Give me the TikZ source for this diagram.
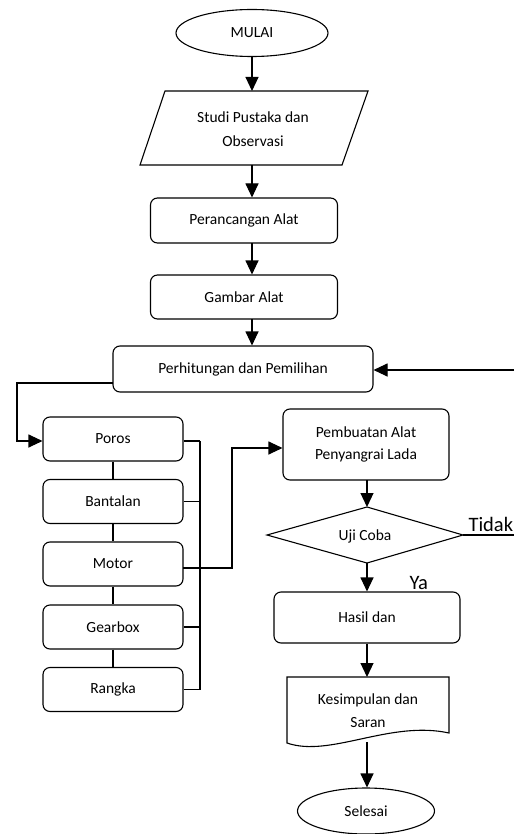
\documentclass[tikz,border=0pt]{standalone}
\usepackage{fontspec}
\setmainfont{Carlito}
\usetikzlibrary{shapes.geometric,arrows.meta}
\begin{document}
\begin{tikzpicture}[x=1pt,y=-1pt,line width=1.1pt,
  arr/.style={-{Triangle[length=14pt,width=13pt]}},
  rbox/.style={draw,rounded corners=7pt,inner sep=0pt,align=center,font=\fontsize{15.5}{22.5}\selectfont},
  term/.style={draw,ellipse,inner sep=0pt,font=\fontsize{15.5}{22.5}\selectfont},
  txt/.style={inner sep=0pt,align=center,font=\fontsize{15.5}{22.5}\selectfont},
  lbl/.style={inner sep=0pt,font=\fontsize{20.5}{24}\selectfont},
  lbox/.style={rbox,minimum width=140pt,minimum height=44pt}]
\useasboundingbox[fill=white] (0,0) rectangle (514,834);

% start
\node[term,minimum width=152pt,minimum height=47pt] (mulai) at (252,33) {MULAI};

% studi pustaka (parallelogram)
\draw (165,91) -- (368,91) -- (342,165) -- (140,165) -- cycle;
\node[txt,font=\fontsize{15.5}{24}\selectfont] (studi) at (253,129) {Studi Pustaka dan\\Observasi};
\coordinate (studiT) at (252,91);
\coordinate (studiB) at (252,165);

\node[rbox,minimum width=187pt,minimum height=45pt] (peranc) at (244,220.5) {Perancangan Alat};
\node[rbox,minimum width=187pt,minimum height=44pt] (gambar) at (244,297) {Gambar Alat};
\node[rbox,minimum width=260pt,minimum height=46pt] (perhit) at (243,369) {Perhitungan dan Pemilihan};

\draw[arr] (mulai.south) -- (studiT);
\draw[arr] (studiB) -- (studiB |- peranc.north);
\coordinate (pb) at (252,243);
\draw[arr] (pb) -- (pb |- gambar.north);
\coordinate (gb) at (252,319);
\draw[arr] (gb) -- (gb |- perhit.north);

% left column
\node[lbox] (poros) at (113,439) {Poros};
\node[lbox] (bantalan) at (113,501.5) {Bantalan};
\node[lbox] (motor) at (113,564) {Motor};
\node[lbox] (gearbox) at (113,627) {Gearbox};
\node[lbox] (rangka) at (113,689.5) {Rangka};

\draw (poros.south) -- (bantalan.north);
\draw (bantalan.south) -- (motor.north);
\draw (motor.south) -- (gearbox.north);
\draw (gearbox.south) -- (rangka.north);

\coordinate (pl) at (113,383);
\coordinate (c1) at (17,383);
\coordinate (c2) at (17,441);
\draw[arr] (pl) -- (c1) -- (c2) -- (c2 -| poros.west);

% bus
\coordinate (busT) at (200,441);
\coordinate (busB) at (200,689.5);
\draw (busT) -- (busB);
\draw (poros.east |- busT) -- (busT);
\draw (bantalan.east) -- (bantalan.east -| busT);
\draw (gearbox.east) -- (gearbox.east -| busT);
\draw (rangka.east) -- (busB);

% right column
\node[rbox,minimum width=166pt,minimum height=71pt] (pembuatan) at (366,444.5) {Pembuatan Alat\\Penyangrai Lada};

\coordinate (m1) at (183,568);
\coordinate (m2) at (232,568);
\coordinate (m3) at (232,448);
\draw[arr] (m1) -- (m2) -- (m3) -- (m3 -| pembuatan.west);

\coordinate (dT) at (367,507);
\coordinate (dR) at (463,535);
\coordinate (dB) at (367,563);
\coordinate (dL) at (267,535);
\draw (dL) -- (dT) -- (dR) -- (dB) -- cycle;
\node[txt] (uji) at (365,536) {Uji Coba};

\coordinate (pbot) at (367,480);
\draw[arr] (pbot) -- (dT);

\node[rbox,minimum width=186pt,minimum height=51pt] (hasil) at (367,617.5) {Hasil dan};
\draw[arr] (dB) -- (dB |- hasil.north);

\draw (287,677) -- (449,677) -- (449,733) .. controls (390,720) and (330,758) .. (287,743) -- cycle;
\node[txt] (kes) at (368,710.5) {Kesimpulan dan\\Saran};
\coordinate (kesT) at (367,677);
\coordinate (kesB) at (367,742);
\draw[arr] (hasil.south -| kesT) -- (kesT);

\node[term,minimum width=137pt,minimum height=46pt] (selesai) at (366,811) {Selesai};
\draw[arr] (kesB) -- (kesB |- selesai.north);

% Tidak / Ya
\coordinate (tEnd) at (514,535);
\draw (dR) -- (tEnd);
\node[lbl,anchor=base west] (tidak) at (468,531) {Tidak};
\node[lbl,anchor=base west] (ya) at (409,589) {Ya};

\coordinate (rEnd) at (514,370);
\draw[arr] (rEnd) -- (rEnd -| perhit.east);
\end{tikzpicture}
\end{document}
